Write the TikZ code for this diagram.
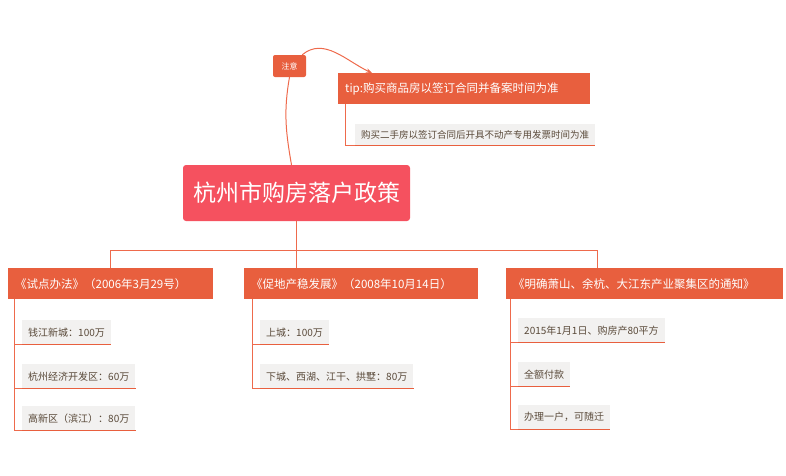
\documentclass[tikz,border=0pt]{standalone}
\usepackage{fontspec}
\setmainfont{Noto Sans CJK SC}
\usetikzlibrary{positioning,arrows.meta}
\definecolor{rootred}{HTML}{F5515F}
\definecolor{topicorange}{HTML}{E85F3E}
\definecolor{linkorange}{HTML}{EE6A4C}
\definecolor{itemgray}{HTML}{F2F1F0}
\definecolor{itemtext}{HTML}{5A4A3A}
\tikzset{
  topicbox/.style={fill=topicorange, text=white, font=\fontsize{11.5}{13}\selectfont, inner xsep=7pt, minimum height=31pt, anchor=north west, align=left},
  itembox/.style={fill=itemgray, text=itemtext, font=\fontsize{10}{12}\selectfont, inner xsep=6pt, minimum height=24pt, anchor=north west},
  uline/.style={topicorange, line width=1.5pt},
  branch/.style={linkorange, line width=1pt},
}
\begin{document}
\begin{tikzpicture}[x=1pt,y=-1pt]
  \useasboundingbox (0,0) rectangle (786,475);

  % Root
  \node[fill=rootred, text=white, rounded corners=3pt, font=\fontsize{23}{26}\selectfont,
        minimum width=227pt, minimum height=56pt] (root) at (296.5,193) {杭州市购房落户政策};

  % Note and tip
  \node[fill=topicorange, text=white, rounded corners=2pt, font=\fontsize{8}{10}\selectfont,
        minimum width=33pt, minimum height=22pt] (note) at (289.5,66) {注意};
  \node[topicbox, text width=238pt] (tip) at (338,73) {tip:购买商品房以签订合同并备案时间为准};
  \node[itembox, minimum height=21pt, font=\fontsize{9.5}{11}\selectfont] (tipsub) at (355,124) {购买二手房以签订合同后开具不动产专用发票时间为准};
  \draw[uline, line width=1pt] (tipsub.south west) -- (tipsub.south east);
  \draw[branch, line width=0.7pt] (tip.south west) ++(7,0) |- (tipsub.south west);

  \draw[branch] (root.north) ++(-5,0) to[out=100,in=-100] (note.south);
  \draw[branch, -{Stealth[length=6pt]}] (note.north east) ++(-4,0) to[out=40,in=155] ([xshift=34pt]tip.north west);

  % Topics
  \node[topicbox, text width=191pt] (law1) at (8,268) {《试点办法》（2006年3月29号）};
  \node[topicbox, text width=220pt] (law2) at (244,268) {《促地产稳发展》（2008年10月14日）};
  \node[topicbox, text width=263pt] (law3) at (506,268) {《明确萧山、余杭、大江东产业聚集区的通知》};

  \coordinate (fork) at (296.5,250);
  \draw[branch] (root.south) -- (fork);
  \draw[branch] (110,250) -- (597,250);
  \draw[branch] (110,250) -- (110,268);
  \draw[branch] (fork) -- (296.5,268);
  \draw[branch] (597,250) -- (597,268);

  % Items
  \foreach \name/\x/\y/\txt in {a1/22/320/钱江新城：100万, a2/22/364/杭州经济开发区：60万, a3/22/406/高新区（滨江）：80万,
      b1/260/320/上城：100万, b2/260/364/下城、西湖、江干、拱墅：80万,
      c1/518/318/2015年1月1日、购房产80平方, c2/518/362/全额付款, c3/518/405/办理一户，可随迁} {
    \node[itembox] (\name) at (\x,\y) {\txt};
    \draw[uline] (\name.south west) -- (\name.south east);
  }
  \draw[branch, line width=0.7pt] (law1.south west) ++(6,0) coordinate (l1) |- (a3.south west);
  \draw[branch, line width=0.7pt] (l1 |- a1.south) -- (a1.south west);
  \draw[branch, line width=0.7pt] (l1 |- a2.south) -- (a2.south west);
  \draw[branch, line width=0.7pt] (law2.south west) ++(8,0) coordinate (l2) |- (b2.south west);
  \draw[branch, line width=0.7pt] (l2 |- b1.south) -- (b1.south west);
  \draw[branch, line width=0.7pt] (law3.south west) ++(4,0) coordinate (l3) |- (c3.south west);
  \draw[branch, line width=0.7pt] (l3 |- c1.south) -- (c1.south west);
  \draw[branch, line width=0.7pt] (l3 |- c2.south) -- (c2.south west);
\end{tikzpicture}
\end{document}
